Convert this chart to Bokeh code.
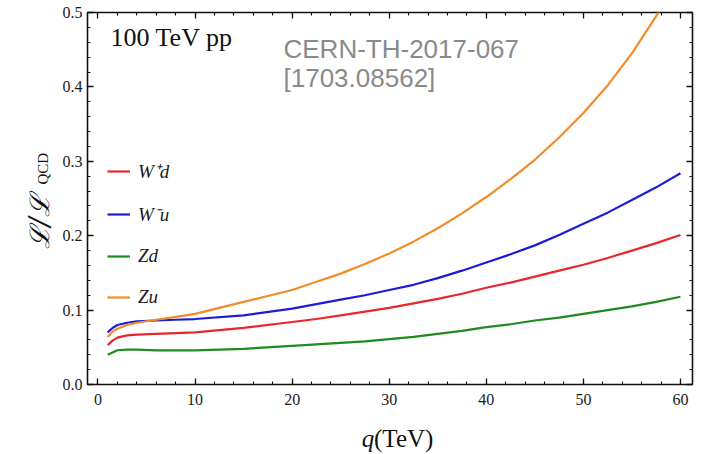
import math
from bokeh.plotting import figure
from bokeh.layouts import row, column
from bokeh.models import (Range1d, LinearAxis, SingleIntervalTicker, Label,
                          Legend, LegendItem, CustomJSTickFormatter)
from bokeh.embed import file_html
from bokeh.resources import INLINE

# ---------------- data ----------------
q_tev = [1, 1.5, 2, 3, 4, 6, 8, 10, 15, 20, 22.5, 25, 27.5, 30, 32.5, 35,
         37.5, 40, 42.5, 45, 47.5, 50, 52.5, 55, 57.5, 60]
ratio_wplus_d = [0.053, 0.059, 0.063, 0.066, 0.067, 0.068, 0.069, 0.070, 0.076,
                 0.084, 0.088, 0.093, 0.098, 0.103, 0.109, 0.115, 0.122, 0.130,
                 0.137, 0.145, 0.153, 0.161, 0.170, 0.180, 0.190, 0.201]
ratio_wminus_u = [0.070, 0.076, 0.080, 0.083, 0.085, 0.086, 0.087, 0.088, 0.093,
                  0.102, 0.108, 0.114, 0.120, 0.127, 0.134, 0.143, 0.153, 0.164,
                  0.175, 0.187, 0.201, 0.216, 0.231, 0.248, 0.265, 0.284]
ratio_z_d = [0.040, 0.043, 0.046, 0.047, 0.047, 0.046, 0.046, 0.046, 0.048,
             0.052, 0.054, 0.056, 0.058, 0.061, 0.064, 0.068, 0.072, 0.077,
             0.081, 0.086, 0.090, 0.095, 0.100, 0.105, 0.111, 0.118]
ratio_z_u = [0.064, 0.071, 0.075, 0.080, 0.083, 0.087, 0.091, 0.095, 0.111,
             0.127, 0.138, 0.149, 0.162, 0.176, 0.192, 0.210, 0.230, 0.252,
             0.276, 0.302, 0.332, 0.365, 0.402, 0.445, 0.495, 0.553]

series_labels = ["W\u207ad", "W\u207bu", "Zd", "Zu"]
series_colors = ["#e8262b", "#1c1cd8", "#1f8a1f", "#f28c28"]

x_tick_interval = 10
y_tick_interval = 0.1
title_text = "100 TeV pp"
ref_lines = ["CERN-TH-2017-067", "[1703.08562]"]
x_title_italic = "q"
x_title_rest = "(TeV)"
y_title_main = "\u2112/\u2112"
y_title_sub = "QCD"

# ---------------- layout ----------------
W, H = 702, 454
YL_W = 58            # strip holding the rotated y title
XL_H = 40            # strip holding the x title
MW, MH = W - YL_W, H - XL_H
FL, FR, FT, FB = 87, 692, 12, 384          # frame in page pixels
X0, X1 = -1.08, 61.24
Y0, Y1 = 0.0, 0.5
SERIF = "Liberation Serif"
INK = "#111111"


def dx(px):
    return X0 + (px - FL) / (FR - FL) * (X1 - X0)


def dy(py):
    return Y0 + (FB - py) / (FB - FT) * (Y1 - Y0)


def strip(w, h):
    f = figure(width=w, height=h, x_range=Range1d(0, w), y_range=Range1d(0, h),
               x_axis_type=None, y_axis_type=None, output_backend="svg",
               toolbar_location=None, min_border=0)
    f.min_border_left = f.min_border_right = f.min_border_top = f.min_border_bottom = 0
    f.outline_line_color = None
    f.grid.visible = False
    f.background_fill_color = "white"
    f.border_fill_color = "white"
    return f


p = figure(width=MW, height=MH, x_range=Range1d(X0, X1), y_range=Range1d(Y0, Y1),
           output_backend="svg", toolbar_location=None,
           min_border_left=FL - YL_W, min_border_right=W - FR,
           min_border_top=FT, min_border_bottom=MH - FB)
p.background_fill_color = "white"
p.border_fill_color = "white"
p.outline_line_color = INK
p.outline_line_width = 1.6
p.grid.visible = False


def style_ticks(ax):
    ax.axis_line_color = None
    ax.major_tick_in = 6
    ax.major_tick_out = 0
    ax.minor_tick_in = 3
    ax.minor_tick_out = 0
    ax.major_tick_line_color = INK
    ax.minor_tick_line_color = INK
    ax.major_tick_line_width = 1.3
    ax.minor_tick_line_width = 1.1


for ax, iv in ((p.xaxis[0], x_tick_interval), (p.yaxis[0], y_tick_interval)):
    ax.ticker = SingleIntervalTicker(interval=iv, num_minor_ticks=5)
    style_ticks(ax)
    ax.major_label_text_font = SERIF
    ax.major_label_text_font_size = "16px"
    ax.major_label_text_color = "#1a1a1a"
p.xaxis[0].major_label_standoff = 9
p.yaxis[0].major_label_standoff = 5
p.yaxis[0].formatter = CustomJSTickFormatter(code="return tick.toFixed(1);")

for loc, iv in (("above", x_tick_interval), ("right", y_tick_interval)):
    ax = LinearAxis(ticker=SingleIntervalTicker(interval=iv, num_minor_ticks=5),
                    formatter=CustomJSTickFormatter(code="return '';"))
    style_ticks(ax)
    ax.major_label_text_font_size = "0px"
    ax.major_label_standoff = 0
    p.add_layout(ax, loc)

series = [ratio_wplus_d, ratio_wminus_u, ratio_z_d, ratio_z_u]
items = []
for ys, col, lab in zip(series, series_colors, series_labels):
    r = p.line(q_tev, ys, line_color=col, line_width=2.2, line_join="round")
    items.append(LegendItem(label=lab, renderers=[r]))

legend = Legend(items=items, location=(20, 75), padding=0, margin=0,
                spacing=17, label_height=24, glyph_height=24, glyph_width=23,
                label_standoff=8, border_line_alpha=0, background_fill_alpha=0,
                label_text_font=SERIF, label_text_font_style="italic",
                label_text_font_size="19px", label_text_color="#1a1a1a")
p.add_layout(legend, "center")

p.add_layout(Label(x=dx(110), y=dy(37), text=title_text, text_font=SERIF,
                   text_font_size="26px", text_color=INK,
                   text_baseline="alphabetic"))
p.add_layout(Label(x=dx(283), y=dy(48), text=ref_lines[0], text_font="Liberation Sans",
                   text_font_size="26px", text_color="#8a8a8a",
                   text_baseline="alphabetic"))
p.add_layout(Label(x=dx(283), y=dy(77), text=ref_lines[1], text_font="Liberation Sans",
                   text_font_size="26px", text_color="#8a8a8a",
                   text_baseline="alphabetic"))

# x title strip (local pixel coordinates, origin bottom-left)
xs = strip(MW, XL_H)
xs.add_layout(Label(x=350 - YL_W, y=XL_H - 24, text=x_title_italic, text_font=SERIF,
                    text_font_style="italic", text_font_size="25px",
                    text_color=INK, text_baseline="alphabetic"))
xs.add_layout(Label(x=363 - YL_W, y=XL_H - 24, text=x_title_rest, text_font=SERIF,
                    text_font_size="25px", text_color=INK,
                    text_baseline="alphabetic"))

# y title strip (rotated text, reads bottom to top)
ys_fig = strip(YL_W, H)
ys_fig.add_layout(Label(x=39, y=H - 248, text=y_title_main, text_font="DejaVu Serif",
                        text_font_style="italic", text_font_size="27px",
                        text_color=INK, text_baseline="alphabetic",
                        angle=math.pi / 2))
ys_fig.add_layout(Label(x=42, y=H - 184, text=y_title_sub, text_font=SERIF,
                        text_font_size="15px", text_color=INK,
                        text_baseline="alphabetic", angle=math.pi / 2))

layout = row(ys_fig, column(p, xs, spacing=0), spacing=0)
open("out.html", "w").write(file_html(layout, INLINE))
